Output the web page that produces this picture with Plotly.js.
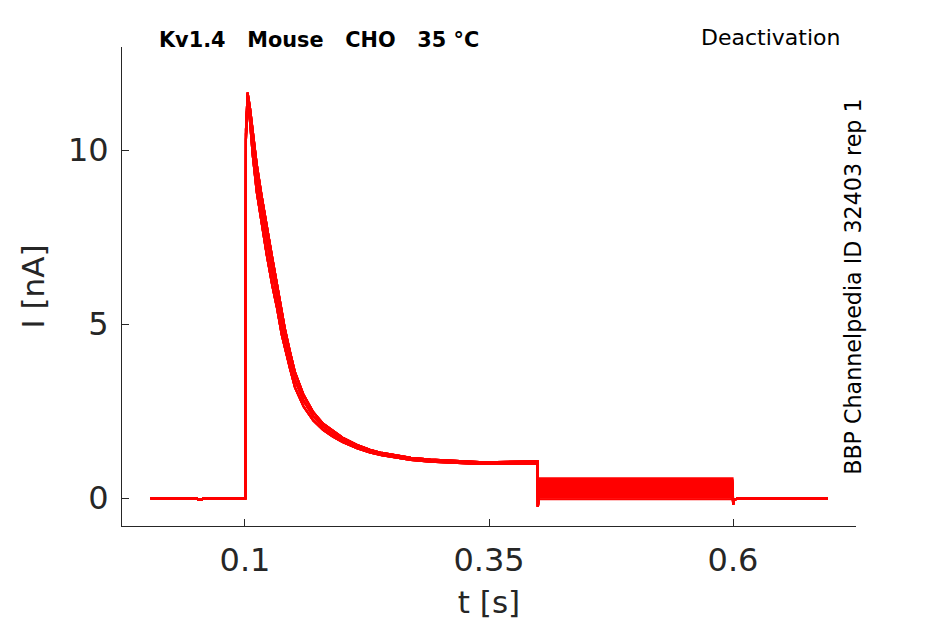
<!DOCTYPE html>
<html>
<head>
<meta charset="utf-8">
<script src="https://cdn.plot.ly/plotly-3.0.1.min.js"></script>
<style>
  html, body { margin: 0; padding: 0; background: #fff; }
  #chart { width: 945px; height: 624px; }
</style>
</head>
<body>
<div id="chart"></div>
<script>
// activation step (s, nA) - upper edge, middle and lower edge of the band
const actTime = [0.003, 0.02, 0.05, 0.052, 0.055, 0.058, 0.08, 0.1005, 0.101, 0.1027, 0.105, 0.1079, 0.112, 0.117, 0.1222, 0.128, 0.1325, 0.1376, 0.141, 0.146, 0.1512, 0.16, 0.17, 0.18, 0.19, 0.2, 0.2148, 0.228, 0.24, 0.256, 0.27, 0.29, 0.31, 0.323, 0.34, 0.358, 0.375, 0.392, 0.3998];
const actHigh = [0, 0, 0, -0.04, -0.05, 0, 0, 0, 10.6, 11.65, 11.25, 10.55, 9.6, 8.7, 7.8, 6.9, 6.2, 5.35, 4.85, 4.22, 3.62, 2.97, 2.47, 2.14, 1.93, 1.74, 1.53, 1.39, 1.3, 1.22, 1.16, 1.11, 1.08, 1.06, 1.04, 1.04, 1.05, 1.06, 1.06];
const actMid = [0, 0, 0, -0.04, -0.05, 0, 0, 0, 10.45, 11.5, 11.05, 10.2, 9.2, 8.3, 7.4, 6.5, 5.85, 5.0, 4.55, 3.97, 3.4, 2.8, 2.35, 2.05, 1.85, 1.68, 1.48, 1.35, 1.26, 1.18, 1.13, 1.08, 1.05, 1.03, 1.01, 1.01, 1.02, 1.03, 1.03];
const actLow = [0, 0, 0, -0.04, -0.05, 0, 0, 0, 10.3, 11.35, 10.85, 9.85, 8.8, 7.9, 7.0, 6.1, 5.5, 4.7, 4.27, 3.73, 3.18, 2.63, 2.23, 1.96, 1.77, 1.61, 1.43, 1.31, 1.23, 1.15, 1.1, 1.05, 1.02, 1.0, 0.98, 0.98, 0.98, 1.0, 1.0];

// deactivation step: one tail level per sweep (nA)
const tailTime = [0.4001, 0.4012, 0.5995];
const tailDip = -0.25;
const tailLevels = [0.57, 0.53, 0.49, 0.45, 0.41, 0.37, 0.33, 0.29, 0.25, 0.21, 0.17, 0.13, 0.09, 0.05, 0.01, -0.03];

// return to holding
const postTime = [0.6002, 0.6008, 0.604, 0.697];
const postI = [-0.18, -0.06, -0.01, -0.01];

const xTicks = [0.1, 0.35, 0.6];
const yTicks = [0, 5, 10];

const actCurves = [actHigh, actMid, actLow];

const traces = tailLevels.map((level, i) => {
    const act = actCurves[i % 3];
    return {
        x: actTime.concat(tailTime, postTime),
        y: act.concat([tailDip, level, level], postI),
        type: 'scatter',
        mode: 'lines',
        line: { color: '#ff0000', width: 2.1 },
        hoverinfo: 'skip',
        showlegend: false
    };
});

const tickFont = { family: 'DejaVu Sans', size: 32, color: '#262626' };
const labelFont = { family: 'DejaVu Sans', size: 31, color: '#262626' };

const layout = {
    width: 945,
    height: 624,
    margin: { l: 122, r: 89, t: 47, b: 98 },
    paper_bgcolor: '#ffffff',
    plot_bgcolor: '#ffffff',
    showlegend: false,
    xaxis: {
        range: [-0.026, 0.726],
        tickvals: xTicks,
        ticktext: xTicks.map(String),
        ticks: 'inside',
        ticklen: 7,
        tickcolor: '#262626',
        showline: true,
        linecolor: '#262626',
        linewidth: 1,
        showgrid: false,
        zeroline: false,
        tickfont: tickFont,
        ticklabelstandoff: 6,
        title: { text: 't [s]', font: labelFont, standoff: 12 }
    },
    yaxis: {
        range: [-0.8, 12.96],
        tickvals: yTicks,
        ticks: 'inside',
        ticklen: 7,
        tickcolor: '#262626',
        showline: true,
        linecolor: '#262626',
        linewidth: 1,
        showgrid: false,
        zeroline: false,
        tickfont: tickFont,
        ticklabelstandoff: 6,
        title: { text: 'I [nA]', font: labelFont, standoff: 14 }
    },
    annotations: [
        {
            text: '<b>Kv1.4\u00a0\u00a0\u00a0Mouse\u00a0\u00a0\u00a0CHO\u00a0\u00a0\u00a035 °C</b>',
            xref: 'paper', yref: 'paper', x: 0.048, y: 1.015,
            xanchor: 'left', yanchor: 'middle', showarrow: false,
            font: { family: 'DejaVu Sans', size: 20.8, color: '#000000' }
        },
        {
            text: 'Deactivation',
            xref: 'paper', yref: 'paper', x: 0.981, y: 1.02,
            xanchor: 'right', yanchor: 'middle', showarrow: false,
            font: { family: 'DejaVu Sans', size: 22, color: '#000000' }
        },
        {
            text: 'BBP Channelpedia ID 32403 rep 1',
            xref: 'paper', yref: 'paper', x: 0.995, y: 0.5,
            xanchor: 'center', yanchor: 'middle', showarrow: false,
            textangle: -90,
            font: { family: 'DejaVu Sans', size: 22.2, color: '#000000' }
        }
    ]
};

Plotly.newPlot('chart', traces, layout, { staticPlot: true, displayModeBar: false });
</script>
</body>
</html>
